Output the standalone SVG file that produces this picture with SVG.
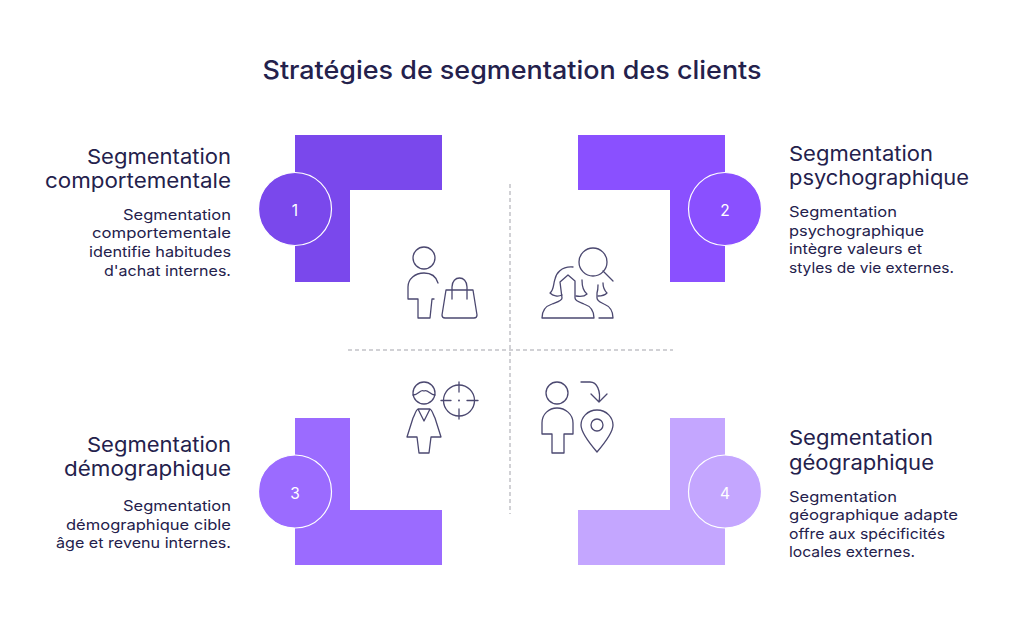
<svg xmlns="http://www.w3.org/2000/svg" width="1024" height="640" viewBox="0 0 1024 640">
<style>
text{font-family:"Inter","Liberation Sans",sans-serif;fill:#24214c}
.t{font-size:25.5px;font-weight:500}
.h{font-size:20.5px;font-weight:400}
.b{font-size:14.5px;font-weight:400}
.n{font-size:15.5px;fill:#fff;text-anchor:middle}
.e{text-anchor:end}
.c{stroke:#fff;stroke-width:1.2}
.d{fill:none;stroke:#c2c2c8;stroke-width:1.5;stroke-dasharray:4 3}
.i{fill:none;stroke:#4b4870;stroke-width:1.3;stroke-linecap:round;stroke-linejoin:round}
</style>
<rect width="1024" height="640" fill="#fff"/>
<text id="title" class="t" x="512" y="79" text-anchor="middle" textLength="499" lengthAdjust="spacingAndGlyphs">Stratégies de segmentation des clients</text>
<g id="connectors">
<path class="d" d="M510 184V514"/>
<path class="d" d="M348 350H673"/>
</g>
<g id="node1">
<path d="M295 135H442V190H350V282H295Z" fill="#7a48ec"/>
<circle class="c" cx="295" cy="209" r="36.500" fill="#7a48ec"/>
<text class="n" x="295" y="215.500">1</text>
<text class="h e" x="231" y="164" textLength="144" lengthAdjust="spacingAndGlyphs">Segmentation</text>
<text class="h e" x="231" y="188" textLength="186" lengthAdjust="spacingAndGlyphs">comportementale</text>
<text class="b e" x="231" y="220" textLength="108" lengthAdjust="spacingAndGlyphs">Segmentation</text>
<text class="b e" x="231" y="238" textLength="139" lengthAdjust="spacingAndGlyphs">comportementale</text>
<text class="b e" x="231" y="257" textLength="142" lengthAdjust="spacingAndGlyphs">identifie habitudes</text>
<text class="b e" x="231" y="276" textLength="127" lengthAdjust="spacingAndGlyphs">d'achat internes.</text>
<g class="i">
<circle cx="424" cy="258" r="11"/>
<path d="M438 283C436 276 431 273 424 273C415 273 408 279 408 287V299H418V318H430L432 299H434"/>
<path d="M446 290H473L477 315Q477 318 474 318H445Q442 318 442 315Z"/>
<path d="M452 299V287C452 275 467 275 467 287V299"/>
</g>
</g>
<g id="node2">
<path d="M578 135H725V282H670V190H578Z" fill="#8a50ff"/>
<circle class="c" cx="725" cy="209" r="36.500" fill="#8a50ff"/>
<text class="n" x="725" y="215.500">2</text>
<text class="h" x="789" y="160.500" textLength="144" lengthAdjust="spacingAndGlyphs">Segmentation</text>
<text class="h" x="789" y="185" textLength="180" lengthAdjust="spacingAndGlyphs">psychographique</text>
<text class="b" x="789" y="217" textLength="108" lengthAdjust="spacingAndGlyphs">Segmentation</text>
<text class="b" x="789" y="236" textLength="135" lengthAdjust="spacingAndGlyphs">psychographique</text>
<text class="b" x="789" y="254" textLength="133" lengthAdjust="spacingAndGlyphs">intègre valeurs et</text>
<text class="b" x="789" y="273" textLength="165" lengthAdjust="spacingAndGlyphs">styles de vie externes.</text>
<g class="i">
<circle cx="593" cy="262" r="14"/>
<path d="M603 271L613 281"/>
<path d="M573 267C561 266 556 274 555 279C553 285 554 290 550 293C553 296 558 297 562 295"/>
<path d="M542 318H594C594 310 590 306 584 304C579 302 575 301 575 298V281L568 275L560 282L562 298C562 301 557 302 552 304C546 306 542 310 542 318Z"/>
<path d="M582 280C582 285 583 291 587 294C585 296 582 297 576 296"/>
<path d="M599 318H613C613 310 609 306 604 304C600 302 597 301 597 298V293C598 290 598 288 598 285"/>
<path d="M603 283C603 287 605 291 607 293C605 295 602 296 598 296"/>
</g>
</g>
<g id="node3">
<path d="M295 418H350V510H442V565H295Z" fill="#9b6bff"/>
<circle class="c" cx="295" cy="491.500" r="36.500" fill="#9b6bff"/>
<text class="n" x="295" y="498.500">3</text>
<text class="h e" x="231" y="451.500" textLength="144" lengthAdjust="spacingAndGlyphs">Segmentation</text>
<text class="h e" x="231" y="476" textLength="167" lengthAdjust="spacingAndGlyphs">démographique</text>
<text class="b e" x="231" y="511" textLength="108" lengthAdjust="spacingAndGlyphs">Segmentation</text>
<text class="b e" x="231" y="530" textLength="165" lengthAdjust="spacingAndGlyphs">démographique cible</text>
<text class="b e" x="231" y="548" textLength="175" lengthAdjust="spacingAndGlyphs">âge et revenu internes.</text>
<g class="i">
<circle cx="424" cy="393" r="11"/>
<path d="M413 395C419 395 420 389 424 391C428 389 430 395 435 395"/>
<path d="M418 409H430C432 410 433 414 435 418L441 437H431L429 453H419L417 437H407L413 418C415 414 416 410 418 409ZM418 409L424 421L430 409"/>
<circle cx="459" cy="400.500" r="15.500"/>
<path d="M459 382V392M459 409V419M441 400.500H451M467 400.500H478"/>
<circle cx="459" cy="400.500" r=".4"/>
</g>
</g>
<g id="node4">
<path d="M670 418H725V565H578V510H670Z" fill="#c4a6ff"/>
<circle class="c" cx="725" cy="491.500" r="36.500" fill="#c4a6ff"/>
<text class="n" x="725" y="498.500">4</text>
<text class="h" x="789" y="445" textLength="144" lengthAdjust="spacingAndGlyphs">Segmentation</text>
<text class="h" x="789" y="470" textLength="145" lengthAdjust="spacingAndGlyphs">géographique</text>
<text class="b" x="789" y="502" textLength="108" lengthAdjust="spacingAndGlyphs">Segmentation</text>
<text class="b" x="789" y="520" textLength="169" lengthAdjust="spacingAndGlyphs">géographique adapte</text>
<text class="b" x="789" y="539" textLength="156" lengthAdjust="spacingAndGlyphs">offre aux spécificités</text>
<text class="b" x="789" y="557" textLength="126" lengthAdjust="spacingAndGlyphs">locales externes.</text>
<g class="i">
<circle cx="557" cy="393" r="11"/>
<path d="M557 408C549 408 542 414 542 423V434H552V453H564V434H573V423C573 414 565 408 557 408Z"/>
<path d="M581 382H590C597 382 601 391 599 402M591 394L599 402L607 394"/>
<path d="M597 410C587 410 581 418 581 425C581 433 591 445 597 452C603 445 613 433 613 425C613 418 607 410 597 410Z"/>
<circle cx="597" cy="425" r="6"/>
</g>
</g>
</svg>
